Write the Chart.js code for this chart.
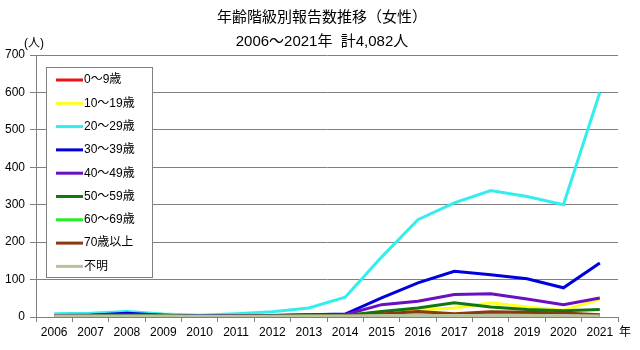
<!DOCTYPE html>
<html>
<head>
<meta charset="utf-8">
<script src="https://cdn.jsdelivr.net/npm/chart.js@4/dist/chart.umd.min.js"></script>
<style>
  html, body { margin: 0; padding: 0; background: #fff; }
  #wrap { width: 640px; height: 350px; }
</style>
</head>
<body>
<div id="wrap"><canvas id="chart" width="640" height="350"></canvas></div>
<script>
// data (female, reports per year by age group)
var years = ['2006','2007','2008','2009','2010','2011','2012','2013','2014','2015','2016','2017','2018','2019','2020','2021'];
var age0_9   = [1,0,1,0,0,1,0,1,0,2,2,2,1,1,1,1];
var age10_19 = [2,1,2,1,1,1,1,2,2,15,18,24,38,27,18,47];
var age20_29 = [9,10,15,8,5,9,14,24,53,160,260,305,338,322,300,600];
var age30_39 = [4,5,10,5,2,3,4,6,8,51,91,122,113,102,78,144];
var age40_49 = [4,5,6,5,3,4,4,6,6,33,42,60,62,48,33,51];
var age50_59 = [2,3,4,4,2,3,3,4,4,15,24,38,27,20,17,20];
var age60_69 = [1,1,1,1,1,1,1,2,2,4,6,7,7,7,6,6];
var age70up  = [2,2,2,2,1,2,2,3,3,8,15,9,14,13,11,6];
var ageUnknown = [3,3,3,3,2,2,2,3,3,4,4,4,4,4,4,3];

var seriesLabels = ['0～9歳','10～19歳','20～29歳','30～39歳','40～49歳','50～59歳','60～69歳','70歳以上','不明'];
var seriesColors = ['#ee1111','#ffff22','#33eeee','#0000dd','#6a10c0','#117711','#22ee22','#8b3a10','#b7c49e'];
var seriesData = [age0_9, age10_19, age20_29, age30_39, age40_49, age50_59, age60_69, age70up, ageUnknown];
var yTickValues = [0,100,200,300,400,500,600,700];

var titleLines = ['年齢階級別報告数推移（女性）', '2006～2021年  計4,082人'];
var FONT = "'Liberation Sans', 'Noto Sans CJK JP', sans-serif";

var datasets = [];
for (var i = 0; i < seriesData.length; i++) {
    datasets.push({
        label: seriesLabels[i],
        data: seriesData[i],
        borderColor: seriesColors[i],
        backgroundColor: seriesColors[i],
        borderWidth: 3,
        pointRadius: 0,
        tension: 0,
        order: seriesData.length - i   // later series on top, like Excel
    });
}

// titles, unit labels and the boxed legend inside the plot
var extras = {
    id: 'extras',
    afterDatasetsDraw: function(chart) {
        var ctx = chart.ctx;
        ctx.save();
        // legend box
        ctx.fillStyle = '#fff';
        ctx.fillRect(46.5, 67.5, 106, 210);
        ctx.strokeStyle = '#808080';
        ctx.lineWidth = 1;
        ctx.strokeRect(46.5, 67.5, 106, 210);
        ctx.font = '12px ' + FONT;
        ctx.textBaseline = 'middle';
        ctx.textAlign = 'left';
        chart.data.datasets.forEach(function(ds, i) {
            var y = 80 + i * 23.3;
            ctx.strokeStyle = ds.borderColor;
            ctx.lineWidth = 3;
            ctx.beginPath();
            ctx.moveTo(56, y);
            ctx.lineTo(83, y);
            ctx.stroke();
            ctx.fillStyle = '#000';
            ctx.fillText(ds.label, 84, y);
        });
        ctx.restore();
    },
    afterDraw: function(chart) {
        var ctx = chart.ctx;
        ctx.save();
        ctx.fillStyle = '#000';
        ctx.textBaseline = 'middle';
        ctx.textAlign = 'center';
        ctx.font = '15px ' + FONT;
        ctx.fillText(titleLines[0], 322, 18);
        ctx.fillText(titleLines[1], 322, 42);
        ctx.font = '12px ' + FONT;
        ctx.textAlign = 'left';
        ctx.fillText('(人)', 24, 44);
        ctx.fillText('年', 619, 333);
        ctx.restore();
    }
};

new Chart(document.getElementById('chart'), {
    type: 'line',
    data: { labels: years, datasets: datasets },
    plugins: [extras],
    options: {
        responsive: false,
        animation: false,
        layout: { padding: { top: 55, right: 22, bottom: 0, left: 0 } },
        plugins: {
            legend: { display: false },
            title: { display: false },
            tooltip: { enabled: false }
        },
        scales: {
            x: {
                offset: true,
                grid: {
                    offset: true,
                    drawOnChartArea: false,
                    color: '#808080',
                    tickLength: 5
                },
                border: { color: '#808080' },
                ticks: {
                    color: '#000',
                    font: { size: 12, family: FONT },
                    maxRotation: 0,
                    autoSkip: false,
                    padding: 3
                },
                afterFit: function(scale) { scale.height = 33; }
            },
            y: {
                min: 0,
                max: 700,
                afterBuildTicks: function(scale) {
                    scale.ticks = yTickValues.map(function(v) { return { value: v }; });
                },
                grid: { color: '#808080', tickLength: 6 },
                border: { color: '#808080' },
                ticks: {
                    color: '#000',
                    font: { size: 12, family: FONT },
                    padding: 5
                },
                afterFit: function(scale) { scale.width = 36; }
            }
        }
    }
});
</script>
</body>
</html>
